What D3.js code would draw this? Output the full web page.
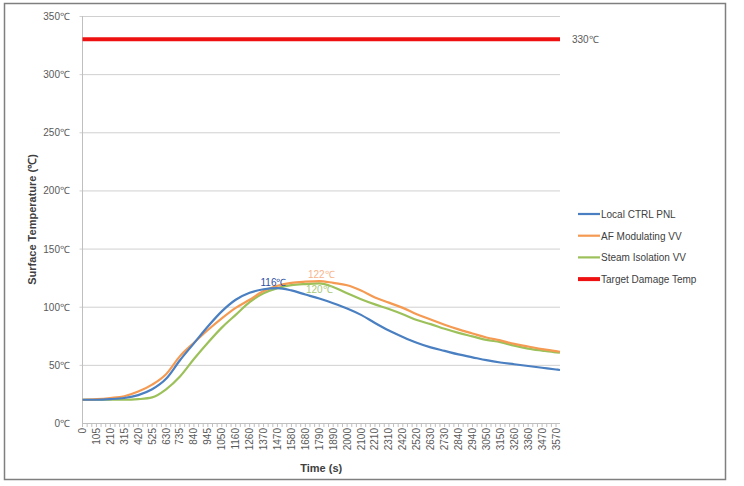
<!DOCTYPE html>
<html><head><meta charset="utf-8">
<script src="https://cdn.jsdelivr.net/npm/d3@7/dist/d3.min.js"></script>
<style>
body{margin:0;background:#fff;}
text{font-family:"Liberation Sans",Arial,sans-serif;}
</style></head><body>
<svg id="c" width="744" height="486"></svg>
<script>
const times = [0,105,210,315,420,525,630,735,840,945,1050,1155,1260,1365,1470,1575,1680,1785,1890,1995,2100,2205,2310,2415,2520,2625,2730,2835,2940,3045,3150,3255,3360,3465,3570,3600];
const localCtrl = [20,20,20.5,21.5,24,29,38,54,68.5,83,96,106,112,115,116,114,110.5,107,103,98.5,93,86,79.5,74,69,65,62,59,56.5,54,52,50.5,49,47.5,46,45.6];
const afMod = [20,20.5,21.5,23,27,33,42,57.5,69,80,90,99,106,113.5,118,120.5,121.5,122,120.5,118.5,114,108,103.5,99,93.5,89,84.5,80.5,77,73.5,71,68,65.8,63.5,61.8,61.3];
const steamIso = [20,20,20,20,20.5,22,29,40,55,69,82,93,104,111.5,116,118.5,119.5,120,117,111.5,106.5,102,98,93.5,88.5,85,81,77.5,74.5,71.5,69.5,66.5,64,62.3,60.8,60.5];
const targetTemp = 330;
const yTicks = [0,50,100,150,200,250,300,350];
const xTickLabels = ["0","105","210","315","420","525","630","735","840","945","1050","1160","1260","1370","1470","1580","1680","1790","1890","2000","2100","2210","2310","2420","2520","2630","2730","2840","2940","3050","3150","3260","3360","3470","3570"];
const seriesNames = ["Local CTRL PNL","AF Modulating VV","Steam Isolation VV","Target Damage Temp"];
const peakLabels = [{s:0,t:1470,v:116,txt:"116℃"},{s:1,t:1785,v:122,txt:"122℃"},{s:2,t:1785,v:120,txt:"120℃"}];

const colors = ["#4a7fc1","#f59a52","#9cc15a","#ee1111"];
const labelColors = ["#2f4f9f","#f7b48a","#a9c97a"];

const svg = d3.select("#c");
svg.append("rect").attr("x",4.5).attr("y",3.5).attr("width",721).attr("height",476)
  .attr("fill","#fff").attr("stroke","#7f7f7f").attr("stroke-width",1.5);

const L=82.5, R=560, T=16, B=423;
const x = d3.scaleLinear().domain([0,3600]).range([L,R]);
const y = d3.scaleLinear().domain([0,350]).range([B,T]);

// gridlines
svg.append("g").selectAll("line").data(yTicks.filter(d=>d>0)).join("line")
  .attr("x1",L-3).attr("x2",R).attr("y1",d=>y(d)+0.5).attr("y2",d=>y(d)+0.5)
  .attr("stroke","#d0d0d0").attr("stroke-width",1);
// y axis
svg.append("line").attr("x1",L).attr("x2",L).attr("y1",T).attr("y2",B).attr("stroke","#bfbfbf");
svg.append("g").selectAll("text").data(yTicks).join("text")
  .attr("x",70).attr("y",d=>y(d)+4).attr("text-anchor","end")
  .attr("font-size",10).attr("fill","#595959").text(d=>d+"℃");
// x axis
svg.append("line").attr("x1",L).attr("x2",R).attr("y1",B+0.5).attr("y2",B+0.5).attr("stroke","#bfbfbf");
svg.append("g").selectAll("line").data(d3.range(0,3601,35)).join("line")
  .attr("x1",d=>x(d)).attr("x2",d=>x(d)).attr("y1",B).attr("y2",B+4).attr("stroke","#bfbfbf");
svg.append("g").selectAll("text").data(xTickLabels).join("text")
  .attr("transform",(d,i)=>`translate(${x(i*105)+3.5},${B+5}) rotate(-90)`)
  .attr("text-anchor","end").attr("font-size",10).attr("fill","#595959").text(d=>d);

// axis titles
svg.append("text").attr("x",(L+R)/2).attr("y",472).attr("text-anchor","middle")
  .attr("font-size",11).attr("font-weight","bold").attr("fill","#404040").text("Time (s)");
svg.append("text").attr("transform",`translate(36,${(T+B)/2}) rotate(-90)`).attr("text-anchor","middle")
  .attr("font-size",11).attr("font-weight","bold").attr("fill","#404040").text("Surface Temperature (℃)");

// series
const seriesData = [localCtrl, afMod, steamIso, times.map(()=>targetTemp)];
const line = d3.line().x((d,i)=>x(times[i])).y(d=>y(d)).curve(d3.curveMonotoneX);
[2,1,0,3].forEach(s=>{
  svg.append("path").datum(seriesData[s]).attr("d",line).attr("fill","none")
    .attr("stroke",colors[s]).attr("stroke-width",s===3?4:2.2);
});
svg.append("text").attr("x",R+12).attr("y",y(targetTemp)+4).attr("font-size",10).attr("fill","#595959").text(targetTemp+"℃");

// peak labels
const dy = [-2,-3,10];
const dx = [-4,2,0];
svg.append("g").selectAll("text").data(peakLabels).join("text")
  .attr("x",d=>x(d.t)+dx[d.s]).attr("y",d=>y(d.v)+dy[d.s])
  .attr("text-anchor","middle").attr("font-size",10).attr("fill",d=>labelColors[d.s]).text(d=>d.txt);

// legend
const lg = svg.append("g");
seriesNames.forEach((n,i)=>{
  const yy = 214 + i*21.7;
  lg.append("line").attr("x1",578).attr("x2",600).attr("y1",yy).attr("y2",yy)
    .attr("stroke",colors[i]).attr("stroke-width",i===3?4:2.2);
  lg.append("text").attr("x",601).attr("y",yy+4).attr("font-size",10).attr("fill","#404040").text(n);
});
</script></body></html>
